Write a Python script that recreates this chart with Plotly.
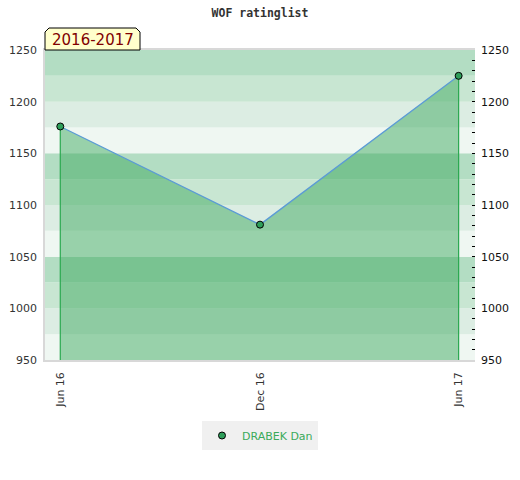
import plotly.graph_objects as go

# ---- data ----
dates = ["2016-06-01", "2016-12-01", "2017-06-01"]
tick_labels = ["Jun 16", "Dec 16", "Jun 17"]
ratings = [1176, 1081, 1225]
player = "DRABEK Dan"
season = "2016-2017"
chart_title = "WOF ratinglist"
y_min, y_max = 950, 1250
band_colors = ["#eff7f2", "#dcede3", "#c8e6d2", "#b3ddc3"]

W, H = 520, 480
L, R, T, B = 45, 45, 50, 120
PW, PH = W - L - R, H - T - B

def px(xp):
    return (xp - L) / PW

def py(yp):
    return (H - B - yp) / PH

fig = go.Figure()

# filled area + line
fig.add_trace(go.Scatter(
    x=dates, y=ratings, mode="lines", fill="tozeroy",
    fillcolor="rgba(55,166,90,0.47)",
    line=dict(color="#5b9bd5", width=1.3),
    showlegend=False, hoverinfo="skip"))

# vertical edges of the area
edge_x = [dates[0], dates[0], None, dates[-1], dates[-1]]
edge_y = [y_min, ratings[0], None, y_min, ratings[-1]]
fig.add_trace(go.Scatter(
    x=edge_x, y=edge_y, mode="lines",
    line=dict(color="#2aa84f", width=1.2),
    showlegend=False, hoverinfo="skip"))

# markers
fig.add_trace(go.Scatter(
    x=dates, y=ratings, mode="markers", name=player,
    marker=dict(size=7, color="#2e9e5a", line=dict(color="#000", width=1)),
    showlegend=True))

# ghost trace for the right axis
fig.add_trace(go.Scatter(
    x=[dates[0]], y=[ratings[0]], yaxis="y2", mode="markers",
    marker=dict(opacity=0), showlegend=False, hoverinfo="skip"))

shapes = []
for k, lo in enumerate(range(y_min, y_max, 25)):
    shapes.append(dict(type="rect", xref="paper", yref="y", layer="below",
                       x0=0, x1=1, y0=lo, y1=lo + 25,
                       fillcolor=band_colors[k % 4], line=dict(width=0)))

# season tab
path = (f"M {px(45)},{py(50)} L {px(45)},{py(32)} L {px(49)},{py(28)} "
        f"L {px(136)},{py(28)} L {px(140)},{py(32)} L {px(140)},{py(50)} Z")
shapes.append(dict(type="path", xref="paper", yref="paper", path=path,
                   fillcolor="#ffffcc", line=dict(color="#000", width=1),
                   layer="above"))

fig.update_layout(
    width=W, height=H,
    margin=dict(l=L, r=R, t=T, b=B, autoexpand=False),
    paper_bgcolor="white", plot_bgcolor="white",
    hovermode=False,
    font=dict(family="DejaVu Sans", size=11, color="#333"),
    title=dict(text=f"<b>{chart_title}</b>", x=0.5, xanchor="center",
               y=1 - 13 / H, yanchor="middle", yref="container",
               font=dict(family="DejaVu Sans Mono", size=11.5, color="#333")),
    shapes=shapes,
    annotations=[dict(text=season, xref="paper", yref="paper",
                      x=px(92.5), y=py(40), xanchor="center", yanchor="middle",
                      showarrow=False,
                      font=dict(family="DejaVu Sans", size=15, color="#800000"))],
    xaxis=dict(type="date", range=["2016-05-18", "2017-06-16"],
               tickvals=dates, ticktext=tick_labels, tickangle=-90,
               showgrid=False, zeroline=False, ticks="",
               ticklabelstandoff=6, automargin=False,
               showline=True, linecolor="#d8d8d8", linewidth=1.5, mirror=True,
               tickfont=dict(size=11, color="#333")),
    yaxis=dict(range=[y_min, y_max], dtick=50, showgrid=False, zeroline=False,
               ticks="", ticklabelstandoff=4, automargin=False,
               showline=True, linecolor="#d8d8d8", linewidth=1.5,
               tickfont=dict(size=11, color="#333")),
    yaxis2=dict(range=[y_min, y_max], overlaying="y", side="right",
                dtick=50, showgrid=False, zeroline=False, automargin=False,
                ticks="inside", ticklen=3, tickcolor="#000", tickwidth=1,
                minor=dict(dtick=10, ticks="inside", ticklen=3,
                           tickcolor="#000", tickwidth=1, showgrid=False),
                ticklabelstandoff=5, showline=False,
                tickfont=dict(size=11, color="#111")),
    legend=dict(orientation="h", x=0.5, xanchor="center", y=py(421),
                yanchor="top", bgcolor="#f0f0f0", itemwidth=30,
                font=dict(size=11, color="#3aaa5a")),
)

fig.write_html("out.html", config={"displayModeBar": False},
               post_script="document.body.style.margin='0';document.body.style.padding='0';")
